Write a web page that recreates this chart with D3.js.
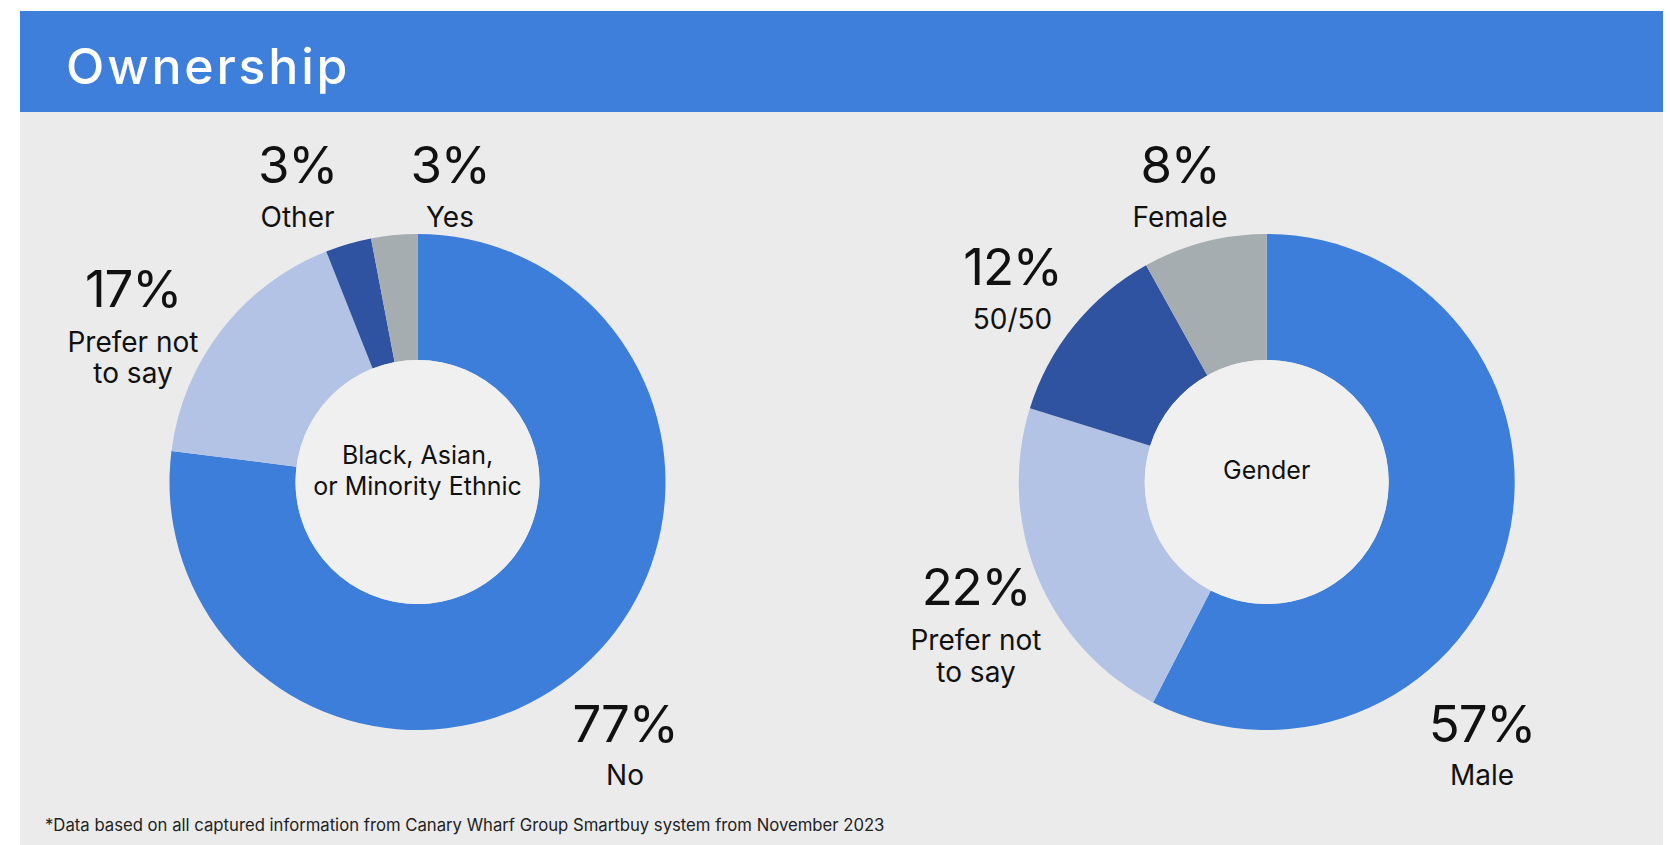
<!DOCTYPE html>
<html>
<head>
<meta charset="utf-8">
<script src="https://cdn.jsdelivr.net/npm/d3@7"></script>
<style>
  html, body { margin: 0; padding: 0; background: #ffffff; }
  svg { display: block; }
  text { font-family: Inter, "Noto Sans", sans-serif; fill: #111111; }
</style>
</head>
<body>
<svg id="chart" width="1670" height="845"></svg>
<script>
// Ownership breakdown: ethnicity and gender of owners
const ethnicityCategories = ["No", "Prefer not to say", "Other", "Yes"];
const ethnicityValues = [77, 17, 3, 3];
const genderCategories = ["Male", "Prefer not to say", "50/50", "Female"];
const genderValues = [57, 22, 12, 8];
const sliceColors = ["#3d7edb", "#b3c3e6", "#2f53a0", "#a6adb1"];
const chartTitle = "Ownership";
const footnote = "*Data based on all captured information from Canary Wharf Group Smartbuy system from November 2023";

// Label placement relative to each donut's centre: [dx, dy of the percent baseline]
const ethnicityLabelPos = [[207.5, 259.7], [-284.5, -175.3], [-120, -298.7], [32.5, -298.7]];
const genderLabelPos = [[215.3, 259.7], [-290.7, 123], [-254.2, -197], [-86.7, -298.7]];

const W = 1670, H = 845;
const svg = d3.select("#chart");

// Header band and panel
svg.append("rect").attr("x", 20).attr("y", 112).attr("width", 1643).attr("height", H - 112).attr("fill", "#ebebeb");
svg.append("rect").attr("x", 20).attr("y", 11).attr("width", 1643).attr("height", 101).attr("fill", "#3e7fdb");
svg.append("text").attr("x", 66).attr("y", 83.5)
  .attr("font-size", 50).attr("font-weight", 500).attr("letter-spacing", 2.8)
  .style("fill", "#ffffff").text(chartTitle);

svg.append("text").attr("x", 45).attr("y", 831)
  .attr("font-size", 16.7).style("fill", "#222222").text(footnote);

const outerR = 248, innerR = 122;
const pie = d3.pie().sort(null).value(d => d.value);
const arc = d3.arc().innerRadius(innerR).outerRadius(outerR);

function splitName(name) {
  return name === "Prefer not to say" ? ["Prefer not", "to say"] : [name];
}

function donut(cx, cy, categories, values, labelPos, centreLines) {
  const data = categories.map((c, i) => ({ name: c, value: values[i], color: sliceColors[i], pos: labelPos[i] }));
  const g = svg.append("g").attr("transform", `translate(${cx},${cy})`);
  g.selectAll("path.slice").data(pie(data)).join("path")
    .attr("class", "slice")
    .attr("d", arc)
    .attr("fill", d => d.data.color);
  g.append("circle").attr("r", innerR).attr("fill", "#f0f0f0");

  const ct = g.append("text").attr("text-anchor", "middle").attr("font-size", 25);
  const lineH = 31;
  const startY = -11 - (centreLines.length - 1) * lineH / 2 + 8;
  centreLines.forEach((l, i) => {
    ct.append("tspan").attr("x", 0).attr("y", startY + i * lineH).text(l);
  });

  const lg = g.selectAll("g.label").data(data).join("g").attr("class", "label")
    .attr("transform", d => `translate(${d.pos[0]},${d.pos[1]})`);
  lg.append("text").attr("text-anchor", "middle").attr("font-size", 51).attr("font-weight", 400)
    .attr("letter-spacing", -1.2)
    .text(d => d.value + "%");
  lg.each(function(d) {
    const lines = splitName(d.name);
    const t = d3.select(this).append("text").attr("text-anchor", "middle").attr("font-size", 28);
    lines.forEach((l, i) => {
      t.append("tspan").attr("x", 0).attr("y", (lines.length > 1 ? 45 : 43.5) + i * 31.5).text(l);
    });
  });
}

donut(417.5, 482, ethnicityCategories, ethnicityValues, ethnicityLabelPos, ["Black, Asian,", "or Minority Ethnic"]);
donut(1266.7, 482, genderCategories, genderValues, genderLabelPos, ["Gender"]);
</script>
</body>
</html>
